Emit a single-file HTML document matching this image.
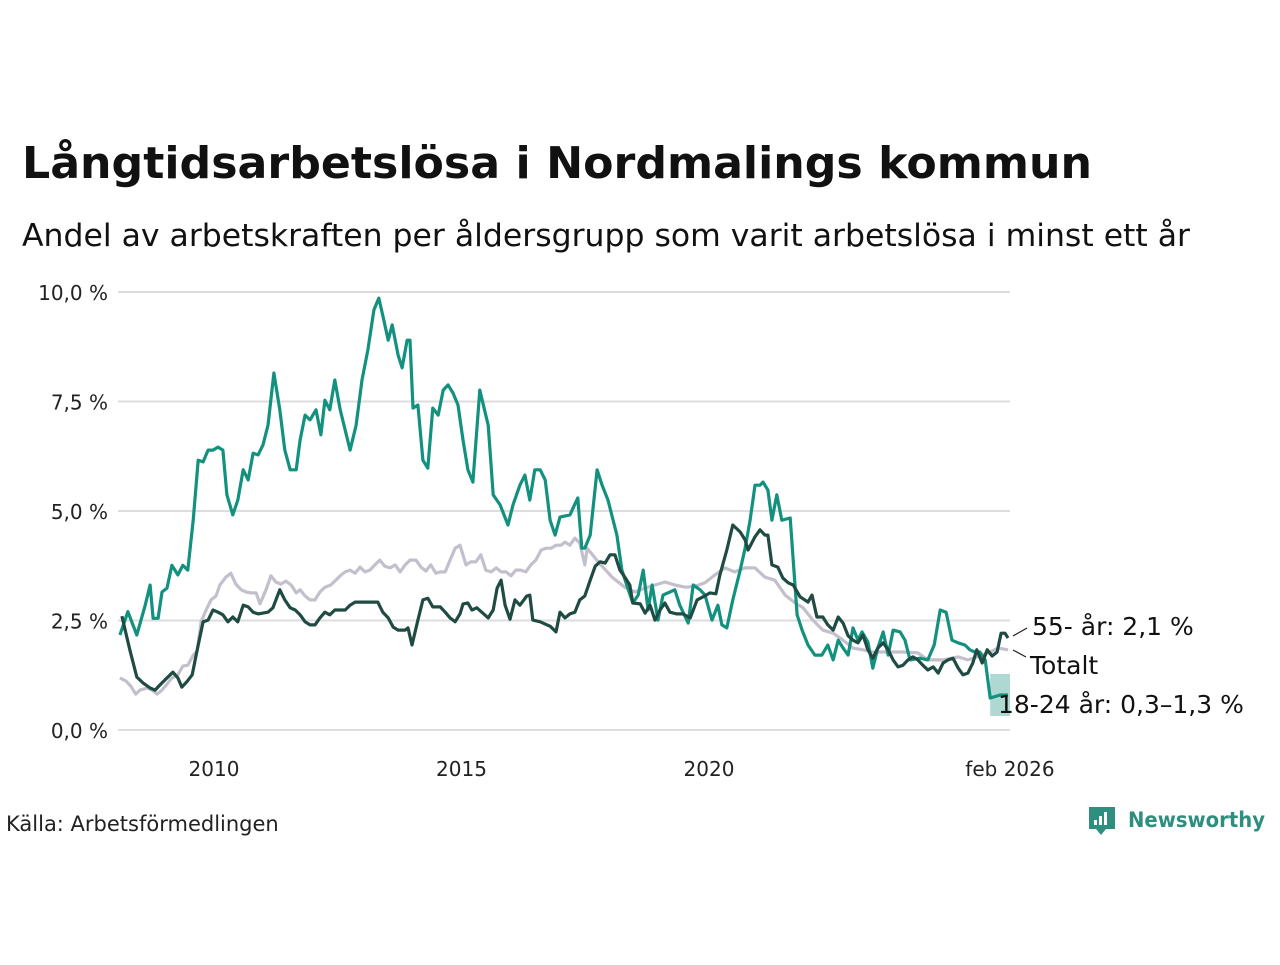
<!DOCTYPE html>
<html><head><meta charset="utf-8"><style>
body{margin:0;background:#fff;width:1280px;height:960px;overflow:hidden;font-family:"Liberation Sans","DejaVu Sans",sans-serif;}
svg text{font-family:"DejaVu Sans","Liberation Sans",sans-serif;}
</style></head><body>
<svg width="1280" height="960">
<text x="22" y="178" font-size="44" font-weight="bold" fill="#111" textLength="1070" lengthAdjust="spacingAndGlyphs">Långtidsarbetslösa i Nordmalings kommun</text>
<text x="22" y="246" font-size="31" fill="#111" textLength="1168" lengthAdjust="spacingAndGlyphs">Andel av arbetskraften per åldersgrupp som varit arbetslösa i minst ett år</text>
<g id="grid"></g><g id="lines"></g><g id="labels"></g>
<text x="6" y="831" font-size="21" fill="#222">Källa: Arbetsförmedlingen</text>
<g>
<path d="M1089 807 h26 v22 h-9 l-5 6 l-5 -6 h-7 z" fill="#2e8f7f"/>
<rect x="1094" y="820" width="3" height="5" fill="#fff"/><rect x="1099" y="816" width="3" height="9" fill="#fff"/><rect x="1104" y="812" width="3" height="13" fill="#fff"/>
<text x="1128" y="827" font-size="21" font-weight="bold" fill="#2e8f7f" textLength="137" lengthAdjust="spacingAndGlyphs">Newsworthy</text>
</g>
</svg>
<script>
const yTicks=[0,2.5,5,7.5,10];
const yTickLabels=["0,0 %","2,5 %","5,0 %","7,5 %","10,0 %"];
const xTicks=[2010,2015,2020,2026.08];
const xTickLabels=["2010","2015","2020","feb 2026"];
const youngT=[2008.10,2008.26,2008.44,2008.61,2008.71,2008.77,2008.87,2008.95,2009.05,2009.15,2009.27,2009.37,2009.47,2009.58,2009.68,2009.78,2009.88,2009.98,2010.08,2010.18,2010.26,2010.38,2010.48,2010.59,2010.69,2010.79,2010.89,2010.99,2011.09,2011.21,2011.33,2011.43,2011.54,2011.66,2011.74,2011.84,2011.94,2012.06,2012.16,2012.24,2012.34,2012.44,2012.55,2012.75,2012.87,2012.99,2013.11,2013.23,2013.33,2013.43,2013.52,2013.60,2013.72,2013.80,2013.90,2013.96,2014.02,2014.12,2014.22,2014.32,2014.42,2014.53,2014.63,2014.73,2014.83,2014.93,2015.03,2015.13,2015.23,2015.37,2015.54,2015.64,2015.78,2015.94,2016.04,2016.18,2016.28,2016.38,2016.48,2016.59,2016.69,2016.79,2016.89,2016.99,2017.19,2017.35,2017.43,2017.49,2017.60,2017.74,2017.84,2017.96,2018.14,2018.24,2018.36,2018.46,2018.57,2018.67,2018.77,2018.85,2018.97,2019.07,2019.21,2019.31,2019.41,2019.58,2019.68,2019.82,2019.92,2020.06,2020.18,2020.26,2020.36,2020.48,2020.63,2020.73,2020.83,2020.93,2021.03,2021.09,2021.19,2021.27,2021.37,2021.47,2021.64,2021.78,2021.88,2022.00,2022.14,2022.28,2022.40,2022.51,2022.61,2022.71,2022.81,2022.91,2023.01,2023.09,2023.21,2023.31,2023.41,2023.52,2023.62,2023.72,2023.86,2023.96,2024.06,2024.26,2024.42,2024.55,2024.67,2024.79,2024.91,2025.03,2025.17,2025.27,2025.37,2025.47,2025.58,2025.68,2025.88,2026.04];
const youngV=[2.17,2.70,2.17,2.85,3.31,2.55,2.55,3.15,3.24,3.76,3.54,3.76,3.65,4.79,6.16,6.12,6.39,6.39,6.46,6.39,5.37,4.91,5.25,5.94,5.71,6.32,6.28,6.51,6.96,8.15,7.31,6.39,5.94,5.94,6.62,7.19,7.08,7.31,6.74,7.53,7.31,7.99,7.31,6.39,6.96,7.99,8.68,9.59,9.86,9.36,8.90,9.25,8.56,8.27,8.90,8.90,7.35,7.42,6.16,5.98,7.35,7.19,7.76,7.88,7.69,7.42,6.62,5.94,5.66,7.76,6.96,5.37,5.14,4.68,5.14,5.59,5.82,5.25,5.94,5.94,5.71,4.79,4.45,4.86,4.91,5.30,4.15,4.15,4.45,5.94,5.59,5.25,4.45,3.65,3.24,2.90,3.08,3.65,2.74,3.31,2.51,3.08,3.15,3.20,2.85,2.44,3.31,3.20,3.08,2.51,2.85,2.40,2.33,2.97,3.65,4.15,4.79,5.59,5.59,5.66,5.48,4.79,5.37,4.79,4.84,2.63,2.28,1.94,1.71,1.71,1.94,1.60,2.05,1.87,1.71,2.33,2.05,2.24,2.01,1.41,1.87,2.24,1.71,2.28,2.24,2.05,1.60,1.64,1.60,1.94,2.74,2.69,2.05,1.99,1.94,1.83,1.78,1.78,1.60,0.73,0.80,0.80];
const oldT=[2008.14,2008.30,2008.44,2008.57,2008.71,2008.81,2008.91,2009.05,2009.17,2009.27,2009.35,2009.45,2009.56,2009.66,2009.78,2009.88,2009.98,2010.08,2010.18,2010.28,2010.38,2010.48,2010.59,2010.69,2010.79,2010.89,2010.99,2011.09,2011.19,2011.33,2011.43,2011.54,2011.64,2011.74,2011.84,2011.94,2012.04,2012.14,2012.24,2012.34,2012.44,2012.55,2012.65,2012.75,2012.85,2013.01,2013.17,2013.31,2013.41,2013.52,2013.62,2013.72,2013.86,2013.92,2014.00,2014.12,2014.22,2014.32,2014.42,2014.57,2014.67,2014.77,2014.87,2014.97,2015.03,2015.13,2015.21,2015.31,2015.41,2015.54,2015.64,2015.72,2015.80,2015.88,2015.98,2016.08,2016.18,2016.32,2016.38,2016.44,2016.59,2016.73,2016.79,2016.91,2016.99,2017.09,2017.19,2017.29,2017.39,2017.49,2017.60,2017.70,2017.80,2017.90,2018.00,2018.10,2018.20,2018.30,2018.40,2018.46,2018.61,2018.71,2018.81,2018.91,2019.01,2019.11,2019.21,2019.35,2019.47,2019.62,2019.76,2019.88,2020.02,2020.14,2020.22,2020.36,2020.48,2020.63,2020.73,2020.79,2020.93,2021.03,2021.13,2021.19,2021.27,2021.39,2021.49,2021.60,2021.70,2021.84,2022.00,2022.08,2022.18,2022.30,2022.40,2022.51,2022.61,2022.71,2022.81,2022.91,2023.01,2023.11,2023.21,2023.31,2023.41,2023.52,2023.62,2023.72,2023.82,2023.92,2024.02,2024.12,2024.22,2024.32,2024.42,2024.53,2024.63,2024.73,2024.83,2024.93,2025.03,2025.13,2025.23,2025.33,2025.41,2025.52,2025.62,2025.72,2025.82,2025.90,2025.98,2026.04];
const oldV=[2.60,1.83,1.21,1.07,0.96,0.91,1.03,1.19,1.32,1.19,0.98,1.10,1.26,1.83,2.47,2.51,2.74,2.69,2.63,2.47,2.58,2.47,2.85,2.81,2.69,2.65,2.67,2.69,2.79,3.20,2.97,2.79,2.74,2.63,2.47,2.40,2.40,2.56,2.69,2.63,2.74,2.74,2.74,2.85,2.92,2.92,2.92,2.92,2.69,2.56,2.35,2.28,2.28,2.33,1.94,2.51,2.97,3.01,2.81,2.81,2.69,2.56,2.47,2.65,2.88,2.90,2.74,2.79,2.69,2.56,2.74,3.24,3.42,2.85,2.53,2.97,2.85,3.06,3.08,2.51,2.47,2.40,2.37,2.24,2.69,2.56,2.65,2.69,2.97,3.06,3.42,3.74,3.84,3.81,4.00,4.00,3.65,3.49,3.31,2.90,2.88,2.67,2.85,2.51,2.74,2.90,2.69,2.65,2.65,2.56,2.97,3.04,3.13,3.11,3.54,4.11,4.68,4.52,4.34,4.11,4.41,4.57,4.45,4.45,3.77,3.72,3.47,3.36,3.31,3.04,2.92,3.08,2.58,2.58,2.40,2.28,2.58,2.44,2.15,2.05,1.99,2.17,1.83,1.64,1.87,1.99,1.83,1.60,1.44,1.48,1.60,1.67,1.60,1.48,1.37,1.44,1.30,1.53,1.60,1.64,1.42,1.26,1.30,1.53,1.83,1.53,1.83,1.69,1.78,2.21,2.21,2.10];
const totT=[2008.10,2008.22,2008.32,2008.42,2008.50,2008.65,2008.75,2008.85,2008.95,2009.05,2009.15,2009.27,2009.37,2009.47,2009.58,2009.66,2009.74,2009.84,2009.94,2010.04,2010.12,2010.24,2010.34,2010.44,2010.55,2010.65,2010.75,2010.85,2010.93,2011.05,2011.15,2011.25,2011.35,2011.45,2011.56,2011.66,2011.74,2011.84,2011.94,2012.04,2012.14,2012.24,2012.36,2012.46,2012.57,2012.65,2012.75,2012.85,2012.95,2013.05,2013.15,2013.25,2013.35,2013.45,2013.56,2013.66,2013.76,2013.86,2013.96,2014.08,2014.18,2014.28,2014.38,2014.48,2014.57,2014.67,2014.77,2014.87,2014.97,2015.09,2015.19,2015.29,2015.39,2015.49,2015.60,2015.70,2015.80,2015.90,2016.00,2016.10,2016.20,2016.30,2016.40,2016.50,2016.61,2016.71,2016.81,2016.91,2017.01,2017.09,2017.19,2017.29,2017.39,2017.49,2017.54,2017.76,2018.04,2018.30,2018.50,2018.71,2018.91,2019.11,2019.31,2019.52,2019.72,2019.92,2020.12,2020.32,2020.52,2020.73,2020.93,2021.13,2021.33,2021.54,2021.74,2021.90,2022.10,2022.30,2022.51,2022.71,2022.91,2023.11,2023.31,2023.62,2023.92,2024.22,2024.42,2024.73,2025.03,2025.23,2025.43,2025.64,2025.84,2026.04];
const totV=[1.19,1.12,1.00,0.82,0.91,0.96,0.91,0.82,0.91,1.05,1.19,1.26,1.46,1.48,1.71,1.80,2.47,2.74,2.97,3.06,3.31,3.49,3.58,3.33,3.20,3.15,3.13,3.13,2.88,3.20,3.52,3.38,3.33,3.40,3.31,3.13,3.20,3.06,2.97,2.97,3.15,3.26,3.31,3.42,3.54,3.61,3.65,3.58,3.72,3.61,3.65,3.77,3.88,3.74,3.70,3.77,3.61,3.77,3.88,3.88,3.72,3.63,3.77,3.58,3.61,3.61,3.88,4.15,4.22,3.77,3.84,3.84,4.00,3.65,3.61,3.70,3.61,3.61,3.52,3.65,3.65,3.61,3.77,3.88,4.11,4.15,4.15,4.22,4.22,4.29,4.22,4.38,4.27,3.77,4.15,3.84,3.49,3.26,3.15,3.24,3.31,3.38,3.31,3.26,3.28,3.36,3.54,3.70,3.61,3.70,3.70,3.49,3.42,3.08,2.90,2.79,2.51,2.28,2.21,2.05,1.87,1.83,1.78,1.78,1.78,1.76,1.60,1.60,1.67,1.60,1.67,1.76,1.87,1.83];
const bandT=[2025.68,2026.08];
const bandLow=0.32, bandHigh=1.28;
const NS="http://www.w3.org/2000/svg";
const X0=2010,PX0=214,PXY=49.5,Y0=730,PXV=43.8;
const xs=t=>PX0+(t-X0)*PXY, ys=v=>Y0-v*PXV;
function mk(tag,attrs,parent){const e=document.createElementNS(NS,tag);for(const k in attrs)e.setAttribute(k,attrs[k]);parent.appendChild(e);return e;}
const grid=document.getElementById('grid'),lines=document.getElementById('lines'),labels=document.getElementById('labels');
yTicks.forEach((v,i)=>{
 const l=mk('line',{x1:118,x2:1010,y1:ys(v),y2:ys(v),stroke:'#dedcdf','stroke-width':2},grid);
 
 
 const t=mk('text',{x:108,y:ys(v)+8,'text-anchor':'end','font-size':20,fill:'#222'},grid);
 t.textContent=yTickLabels[i];
 
 
});
xTicks.forEach((v,i)=>{
 const t=mk('text',{x:xs(v),y:776,'text-anchor':'middle','font-size':20,fill:'#222'},grid);
 t.textContent=xTickLabels[i];
 
 
});
const band=mk('rect',{x:xs(bandT[0]),y:ys(bandHigh),width:xs(bandT[1])-xs(bandT[0]),height:ys(bandLow)-ys(bandHigh),fill:'#13917f','fill-opacity':0.35},lines);


function line(T,V,color,name){
 const d=T.map((t,i)=>(i?'L':'M')+xs(t).toFixed(1)+' '+ys(V[i]).toFixed(1)).join(' ');
 const p=mk('path',{d:d,fill:'none',stroke:color,'stroke-width':3.2,'stroke-linejoin':'round'},lines);
 
 
}
line(totT,totV,'#c3bfcc','line-totalt');
line(youngT,youngV,'#13917f','line-18-24');
line(oldT,oldV,'#1f4b43','line-55');
const lab=[["55- år: 2,1 %",1032,635,'label-55'],["Totalt",1030,674,'label-totalt'],["18-24 år: 0,3–1,3 %",998,713,'label-18-24']];
lab.forEach(a=>{const t=mk('text',{x:a[1],y:a[2],'font-size':25,fill:'#111'},labels);t.textContent=a[0];
 
 });
mk('line',{x1:1013,y1:636,x2:1027,y2:628,stroke:'#222','stroke-width':1.2},labels);
mk('line',{x1:1013,y1:650,x2:1026,y2:657,stroke:'#222','stroke-width':1.2},labels);
</script>
</body></html>
